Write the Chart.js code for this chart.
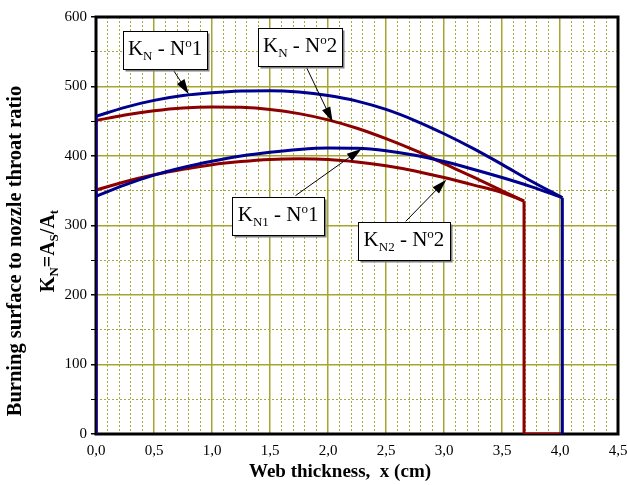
<!DOCTYPE html>
<html>
<head>
<meta charset="utf-8">
<script src="https://cdn.jsdelivr.net/npm/chart.js@4.4.0/dist/chart.umd.min.js"></script>
<style>
   body { margin: 0; background: #fff; }
   #wrap { width: 627px; height: 485px; }
</style>
</head>
<body>
<div id="wrap"><canvas id="knChart" width="627" height="485"></canvas></div>
<script>
// web thickness samples (cm)
var webBlue = [0, 0.25, 0.5, 0.75, 1.0, 1.25, 1.5, 1.75, 2.0, 2.25, 2.5, 2.75, 3.0, 3.25, 3.5, 3.75, 4.02];
var webRed = [0, 0.25, 0.5, 0.75, 1.0, 1.25, 1.5, 1.75, 2.0, 2.25, 2.5, 2.75, 3.0, 3.25, 3.5, 3.69];

// K_N = A_S / A_t for each grain
var knN1 = [457, 470, 480, 487, 491, 493.5, 494, 492, 487, 479, 467, 451, 432, 411, 388, 364, 340];
var kn1N1 = [342, 358.5, 372.5, 383.5, 392.5, 400, 405.5, 409.5, 411.5, 411, 407.5, 401, 392, 381, 369, 356, 340];
var knN2 = [451, 459, 465, 469, 470.5, 470, 467, 461, 452, 440, 425, 408, 389, 370, 350, 335];
var kn2N2 = [351, 363, 373, 381, 387.5, 392, 395, 396, 395, 391.5, 386, 378.5, 369, 358.5, 347.5, 335];

var xLabels = ["0,0", "0,5", "1,0", "1,5", "2,0", "2,5", "3,0", "3,5", "4,0", "4,5"];
var yLabels = ["0", "100", "200", "300", "400", "500", "600"];

var BLUE = "#00008f";
var RED = "#8c0000";
var FONT = "'Liberation Serif', 'Times New Roman', serif";

function pts(xs, ys) {
   var out = [];
   for (let i = 0; i < xs.length; i++) out.push({ x: xs[i], y: ys[i] });
   return out;
}

function isStep(v, step) {
   return Math.abs(v / step - Math.round(v / step)) < 1e-6;
}

var blueEnd = webBlue[webBlue.length - 1];
var redEnd = webRed[webRed.length - 1];

// callout boxes: rich text parts [text, size, baseline shift]
var notes = [
   { parts: [["K", 21, 0], ["N", 13, 5], [" - N", 21, 0], ["o", 13, -8], ["1", 21, 0]],
     at: [0.595, 552], w: 84, tail: [0.65, 528], tip: [0.80, 489] },
   { parts: [["K", 21, 0], ["N", 13, 5], [" - N", 21, 0], ["o", 13, -8], ["2", 21, 0]],
     at: [1.76, 557], w: 84, tail: [1.81, 529], tip: [2.04, 449] },
   { parts: [["K", 21, 0], ["N1", 13, 5], [" - N", 21, 0], ["o", 13, -8], ["1", 21, 0]],
     at: [1.57, 314], w: 92, tail: [1.72, 343], tip: [2.29, 410.6] },
   { parts: [["K", 21, 0], ["N2", 13, 5], [" - N", 21, 0], ["o", 13, -8], ["2", 21, 0]],
     at: [2.655, 278], w: 92, tail: [2.67, 306], tip: [3.02, 366] }
];

function richWidth(ctx, parts) {
   var w = 0;
   parts.forEach(function (p) {
      ctx.font = (p[3] || "") + p[1] + "px " + FONT;
      w += ctx.measureText(p[0]).width;
   });
   return w;
}

function drawRich(ctx, parts, x, y) {
   ctx.textBaseline = "alphabetic";
   ctx.textAlign = "left";
   parts.forEach(function (p) {
      ctx.font = (p[3] || "") + p[1] + "px " + FONT;
      ctx.fillText(p[0], x, y + p[2]);
      x += ctx.measureText(p[0]).width;
   });
}

var framePlugin = {
   id: "frame",
   beforeDatasetsDraw: function (chart) {
      var a = chart.chartArea, ctx = chart.ctx;
      ctx.save();
      ctx.strokeStyle = "#000";
      ctx.lineWidth = 3;
      ctx.strokeRect(a.left, a.top, a.right - a.left, a.bottom - a.top);
      ctx.restore();
   }
};

var notesPlugin = {
   id: "notes",
   afterDatasetsDraw: function (chart) {
      var ctx = chart.ctx, sx = chart.scales.x, sy = chart.scales.y;
      ctx.save();
      notes.forEach(function (n) {
         var tx = sx.getPixelForValue(n.tail[0]), ty = sy.getPixelForValue(n.tail[1]);
         var hx = sx.getPixelForValue(n.tip[0]), hy = sy.getPixelForValue(n.tip[1]);
         var ang = Math.atan2(hy - ty, hx - tx);
         var c = Math.cos(ang), s = Math.sin(ang);
         ctx.strokeStyle = "#000";
         ctx.fillStyle = "#000";
         ctx.lineWidth = 1;
         ctx.beginPath();
         ctx.moveTo(tx, ty);
         ctx.lineTo(hx - 10 * c, hy - 10 * s);
         ctx.stroke();
         ctx.beginPath();
         ctx.moveTo(hx, hy);
         ctx.lineTo(hx - 15 * c + 4.5 * s, hy - 15 * s - 4.5 * c);
         ctx.lineTo(hx - 15 * c - 4.5 * s, hy - 15 * s + 4.5 * c);
         ctx.closePath();
         ctx.fill();

         var cx = sx.getPixelForValue(n.at[0]), cy = sy.getPixelForValue(n.at[1]);
         var w = n.w, h = 38;
         var bx = Math.round(cx - w / 2) + 0.5, by = Math.round(cy - h / 2) + 0.5;
         ctx.fillStyle = "#808080";
         ctx.fillRect(bx + 2, by + 2, w, h);
         ctx.fillStyle = "#fff";
         ctx.fillRect(bx, by, w, h);
         ctx.strokeStyle = "#000";
         ctx.strokeRect(bx, by, w, h);
         ctx.fillStyle = "#000";
         var tw = richWidth(ctx, n.parts);
         drawRich(ctx, n.parts, cx - tw / 2, cy + 5);
      });
      ctx.restore();
   }
};

var titlesPlugin = {
   id: "titles",
   afterDraw: function (chart) {
      var ctx = chart.ctx;
      ctx.save();
      ctx.fillStyle = "#000";
      ctx.textBaseline = "alphabetic";
      ctx.textAlign = "center";
      ctx.font = "bold 19px " + FONT;
      ctx.fillText("Web thickness,  x (cm)", 340, 477);

      var mid = 251;
      ctx.translate(21, mid);
      ctx.rotate(-Math.PI / 2);
      ctx.font = "bold 20.5px " + FONT;
      ctx.fillText("Burning surface to nozzle throat ratio", 0, 0);
      ctx.restore();

      ctx.save();
      ctx.fillStyle = "#000";
      ctx.translate(54, mid);
      ctx.rotate(-Math.PI / 2);
      var parts = [["K", 20, 0, "bold "], ["N", 13, 4, "bold "], ["=A", 20, 0, "bold "], ["S", 13, 4, "bold "],
                   ["/A", 20, 0, "bold "], ["t", 13, 4, "bold "]];
      var w = richWidth(ctx, parts);
      drawRich(ctx, parts, -w / 2, 0);
      ctx.restore();
   }
};

var ctx = document.getElementById("knChart").getContext("2d");

var chart = new Chart(ctx, {
   type: "line",
   data: {
      datasets: [
         { data: pts(webBlue, knN1), borderColor: BLUE, cubicInterpolationMode: "monotone" },
         { data: pts(webBlue, kn1N1), borderColor: BLUE, cubicInterpolationMode: "monotone" },
         { data: [{ x: 0, y: 0 }, { x: 0, y: knN1[0] }], borderColor: BLUE, tension: 0 },
         { data: [{ x: blueEnd, y: knN1[knN1.length - 1] }, { x: blueEnd, y: 0 }], borderColor: BLUE, tension: 0 },
         { data: pts(webRed, knN2), borderColor: RED, cubicInterpolationMode: "monotone" },
         { data: pts(webRed, kn2N2), borderColor: RED, cubicInterpolationMode: "monotone" },
         { data: [{ x: 0, y: 0 }, { x: 0, y: knN2[0] }], borderColor: RED, tension: 0 },
         { data: [{ x: redEnd, y: knN2[knN2.length - 1] }, { x: redEnd, y: 0 }, { x: blueEnd, y: 0 }],
           borderColor: RED, tension: 0 }
      ]
   },
   options: {
      responsive: false,
      animation: false,
      layout: { padding: { top: 17, right: 0, left: 0, bottom: 0 } },
      elements: {
         point: { radius: 0 },
         line: { borderWidth: 3, fill: false, borderCapStyle: "butt", borderJoinStyle: "miter" }
      },
      plugins: { legend: { display: false }, tooltip: { enabled: false } },
      scales: {
         x: {
            type: "linear",
            min: 0,
            max: 4.5,
            afterFit: function (s) {
               s.height = 51;
               s.paddingLeft = 0;
               s.paddingRight = 9;
            },
            ticks: {
               stepSize: 0.1,
               autoSkip: false,
               maxRotation: 0,
               padding: 8,
               color: "#000",
               font: { family: FONT, size: 15 },
               callback: function (v) {
                  return isStep(v, 0.5) ? xLabels[Math.round(v / 0.5)] : "";
               }
            },
            grid: {
               drawTicks: false,
               color: function (c) {
                  if (!c.tick) return "transparent";
                  return isStep(c.tick.value, 0.5) ? "#a5a530" : "#a8a840";
               },
               lineWidth: function (c) {
                  return c.tick && isStep(c.tick.value, 0.5) ? 1.5 : 1;
               }
            },
            border: {
               display: false,
               dash: function (c) {
                  return c.tick && !isStep(c.tick.value, 0.5) ? [2, 2] : [];
               }
            }
         },
         y: {
            type: "linear",
            min: 0,
            max: 600,
            afterFit: function (s) { s.width = 96; },
            ticks: {
               stepSize: 50,
               autoSkip: false,
               padding: 4,
               color: "#000",
               font: { family: FONT, size: 15 },
               callback: function (v) {
                  return isStep(v, 100) ? yLabels[Math.round(v / 100)] : "";
               }
            },
            grid: {
               tickLength: 5,
               tickColor: "#000",
               color: function (c) {
                  if (!c.tick) return "transparent";
                  return isStep(c.tick.value, 100) ? "#a5a530" : "#a8a840";
               },
               lineWidth: function (c) {
                  return c.tick && isStep(c.tick.value, 100) ? 1.5 : 1;
               }
            },
            border: {
               display: false,
               dash: function (c) {
                  return c.tick && !isStep(c.tick.value, 100) ? [2, 2] : [];
               }
            }
         }
      }
   },
   plugins: [framePlugin, notesPlugin, titlesPlugin]
});
</script>
</body>
</html>
